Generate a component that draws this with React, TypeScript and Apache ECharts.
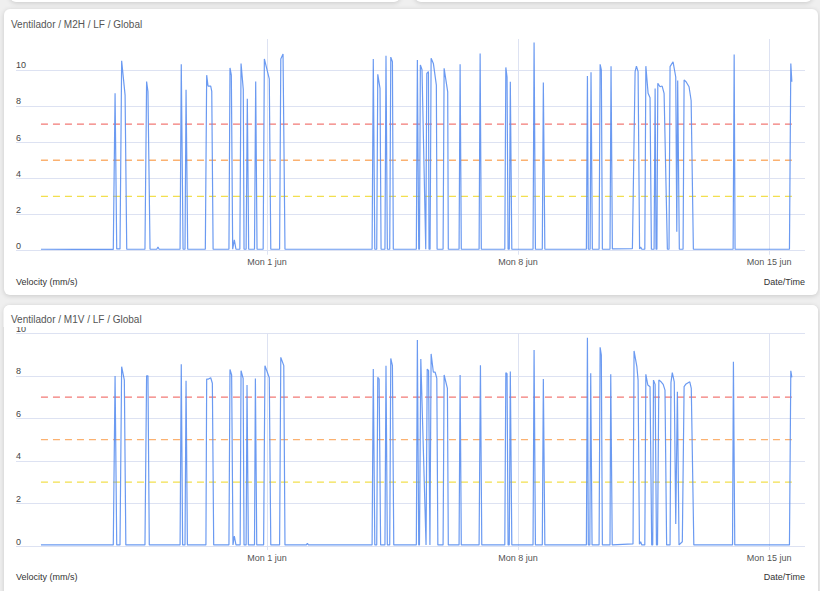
import React, { useEffect, useRef } from "react";
import * as echarts from "echarts";

// x values are hours since Mon 25 May 2020 00:00
const X_MAX_HOURS = 528;
const xTickHours = [168, 336, 504];
const xTickLabels = ["Mon 1 jun", "Mon 8 jun", "Mon 15 jun"];

const thresholdValues = [7, 5, 3];
const thresholdColors = ["#f27a76", "#fbb170", "#f2df4e"];

const m2hTitle = "Ventilador / M2H / LF / Global";
const m1vTitle = "Ventilador / M1V / LF / Global";

const m2hData: [number, number][] = [
  [16.7, 0.08], [40, 0.07], [65.1, 0.07], [66.3, 8.7], [67.4, 0.1],
  [69.6, 0.1], [70.7, 10.5], [73.0, 8.6], [74.1, 0.08],
  [86.3, 0.08], [87.4, 9.35], [88.3, 8.8], [89.7, 0.08],
  [94.2, 0.08], [95.0, 0.2], [95.8, 0.08],
  [109.8, 0.08], [110.6, 10.3], [111.8, 0.08],
  [113.1, 0.08], [113.8, 8.9], [114.9, 0.08],
  [126.7, 0.08], [127.6, 9.7], [128.5, 9.1], [130.3, 9.1], [131.0, 8.8], [131.9, 0.08],
  [142.5, 0.08], [143.2, 10.1], [144.1, 9.7], [145.0, 0.08], [146.1, 0.6], [147.2, 0.08],
  [149.8, 0.08], [150.6, 10.35], [152.1, 8.9], [152.6, 0.08],
  [154.0, 0.08], [154.8, 8.4], [155.7, 0.08],
  [159.6, 0.08], [160.4, 9.35], [161.3, 0.08],
  [165.4, 0.08], [166.2, 10.6], [169.5, 9.5], [170.5, 0.08],
  [176.4, 0.08], [177.2, 10.6], [178.7, 10.87], [180.0, 0.08],
  [238.3, 0.08], [239.1, 10.6], [240.1, 0.08],
  [241.4, 0.08], [242.1, 9.75], [243.6, 8.97], [244.3, 0.08],
  [246.9, 0.08], [247.6, 10.77], [248.5, 0.08],
  [250.1, 0.08], [250.8, 10.7], [251.9, 10.44], [252.5, 0.08],
  [267.9, 0.08], [268.6, 10.54], [269.5, 0.08], [270.0, 0.08], [270.6, 10.26], [271.7, 10.0],
  [274.2, 0.08], [274.9, 9.8], [276.0, 9.9], [276.4, 0.08],
  [277.1, 0.08], [277.8, 10.63], [279.3, 10.35], [281.3, 9.15], [281.8, 0.08],
  [285.8, 0.08], [286.5, 10.08], [288.9, 8.78], [289.3, 0.08],
  [296.5, 0.08], [297.2, 10.3], [298.0, 0.08],
  [309.9, 0.08], [310.6, 10.9], [311.4, 0.08],
  [327.1, 0.08], [327.8, 10.13], [328.6, 9.6], [329.3, 0.08], [330.1, 0.08], [330.8, 9.34], [331.8, 0.08],
  [346.0, 0.08], [346.7, 11.5], [347.6, 0.08],
  [352.2, 0.08], [352.9, 9.3], [353.9, 0.08],
  [381.7, 0.08], [382.4, 9.65], [383.0, 0.08], [384.2, 0.08], [384.8, 9.86], [385.7, 0.08],
  [390.2, 0.08], [390.9, 10.3], [391.7, 10.0], [392.4, 0.08],
  [397.5, 0.08], [398.2, 10.2], [399.1, 0.1],
  [412.5, 0.12], [414.3, 9.9], [415.2, 10.2], [416.3, 9.9], [417.3, 0.1], [418.0, 0.2], [418.8, 0.08],
  [420.8, 0.08], [421.5, 10.2], [423.0, 8.7], [424.3, 8.45], [425.2, 0.08],
  [427.0, 0.08], [427.7, 8.97], [428.3, 0.08], [428.9, 0.08], [429.5, 9.25], [431.0, 9.06],
  [432.4, 9.1], [433.7, 8.7], [435.9, 0.08],
  [437.0, 0.08], [437.7, 10.17], [439.7, 10.44], [441.5, 9.6], [442.2, 1.05], [442.8, 9.4], [443.9, 0.08],
  [446.4, 0.08], [447.1, 9.43], [448.4, 9.34], [450.4, 9.06], [451.8, 8.3], [453.3, 0.08],
  [479.9, 0.08], [480.6, 10.85], [481.2, 0.08],
  [517.6, 0.08], [518.5, 10.35], [519.2, 9.34],
];

const m1vData: [number, number][] = [
  [16.7, 0.05], [40, 0.05], [65.1, 0.05], [66.3, 7.99], [67.4, 0.05],
  [69.6, 0.05], [70.7, 8.43], [72.5, 7.8], [73.5, 0.05],
  [86.3, 0.05], [87.4, 8.0], [88.3, 8.0], [89.2, 0.05],
  [109.8, 0.05], [110.6, 8.54], [111.5, 0.05],
  [113.1, 0.05], [113.8, 7.77], [114.7, 0.05],
  [127.1, 0.05], [127.6, 7.85], [128.8, 7.85], [130.3, 7.91], [131.4, 7.65], [132.3, 0.05],
  [142.5, 0.05], [143.2, 8.3], [144.3, 8.04], [145.2, 0.05], [146.1, 0.47], [147.2, 0.05],
  [150.0, 0.05], [150.6, 8.24], [152.0, 7.88], [152.6, 0.05],
  [154.0, 0.05], [154.6, 7.57], [155.5, 0.05],
  [159.6, 0.05], [160.2, 7.88], [161.1, 0.05],
  [165.7, 0.05], [166.6, 8.48], [169.5, 7.91], [170.5, 0.05],
  [176.4, 0.05], [177.2, 8.87], [179.2, 8.48], [180.0, 0.05],
  [194.3, 0.05], [195.0, 0.12], [195.7, 0.05],
  [238.3, 0.05], [239.1, 8.32], [240.1, 0.05],
  [241.4, 0.05], [242.1, 7.93], [243.0, 7.85], [244.0, 0.05],
  [246.9, 0.05], [247.6, 8.48], [248.5, 0.05],
  [250.1, 0.05], [250.8, 8.82], [251.9, 8.48], [252.8, 0.05],
  [267.9, 0.05], [268.6, 9.69], [269.5, 0.05], [270.0, 0.05], [270.9, 8.79],
  [274.4, 0.05], [275.2, 8.32], [276.1, 8.24], [277.0, 0.05],
  [277.3, 0.05], [277.8, 9.03], [279.3, 8.17], [280.5, 8.17], [281.6, 7.88], [282.3, 0.05],
  [285.8, 0.05], [286.5, 8.04], [288.7, 7.41], [289.3, 0.05],
  [296.5, 0.05], [297.2, 8.04], [298.0, 0.05],
  [309.9, 0.05], [310.8, 8.5], [311.7, 0.05],
  [327.1, 0.05], [327.8, 8.15], [328.6, 8.1], [329.3, 0.05], [330.1, 0.05], [330.8, 8.2], [331.8, 0.05],
  [346.0, 0.05], [346.7, 9.21], [347.6, 0.05],
  [352.2, 0.05], [352.9, 7.85], [353.9, 0.05],
  [381.7, 0.05], [382.4, 9.79], [383.0, 0.05], [384.0, 0.05], [384.6, 8.12], [385.5, 0.05],
  [390.2, 0.05], [390.9, 9.34], [391.7, 8.98], [392.4, 0.05],
  [397.5, 0.05], [398.0, 8.07], [399.0, 0.05],
  [412.9, 0.1], [413.6, 9.17], [415.5, 8.43], [416.3, 7.8], [417.2, 0.08], [418.0, 0.2], [418.8, 0.05],
  [420.8, 0.05], [421.5, 8.07], [422.8, 7.57], [424.3, 7.49], [425.4, 0.05],
  [426.1, 0.05], [426.6, 7.8], [427.7, 7.6], [428.6, 0.05], [429.3, 0.05], [430.2, 7.8],
  [431.7, 7.72], [433.1, 7.6], [434.3, 7.33], [435.4, 0.05],
  [437.7, 0.05], [438.3, 7.68], [439.2, 8.15], [440.5, 7.72], [441.5, 1.03], [442.6, 7.25], [443.7, 0.05],
  [445.9, 0.2], [447.1, 7.49], [448.4, 7.62], [450.9, 7.72], [451.9, 7.41], [453.6, 0.05],
  [479.5, 0.05], [480.1, 8.66], [481.0, 0.05],
  [517.6, 0.05], [518.5, 8.24], [519.2, 7.93],
];

const FONT = "'Liberation Sans', Arial, Helvetica, sans-serif";
const GRID = "#dde2f2";
const LINE = "#5b8ff0";

type Cfg = {
  title: string;
  data: [number, number][];
  yMax: number;
  hideMax: boolean;
  titleTop: number;
  gridTop: number;
  gridBottom: number;
  footerY: number;
  cover?: { y: number; h: number };
};

function makeOption(cfg: Cfg) {
  const first = cfg.data[0][0];
  const last = cfg.data[cfg.data.length - 1][0];
  const graphic: any[] = [];
  if (cfg.cover) {
    graphic.push({
      type: "rect",
      z: 5,
      shape: { x: 3.5, y: cfg.cover.y, width: 814.5, height: cfg.cover.h, r: [6, 6, 0, 0] },
      style: { fill: "#ffffff" },
    });
  }
  graphic.push(
    {
      type: "text",
      z: 10,
      left: 16,
      top: cfg.footerY - 5,
      style: { text: "Velocity (mm/s)", font: `9px ${FONT}`, fill: "#333" },
    },
    {
      type: "text",
      z: 10,
      right: 15,
      top: cfg.footerY - 5,
      style: { text: "Date/Time", font: `9px ${FONT}`, fill: "#333" },
    }
  );
  return {
    animation: false,
    textStyle: { fontFamily: FONT },
    title: {
      text: cfg.title,
      left: 11,
      top: cfg.titleTop,
      padding: 0,
      z: 10,
      textStyle: { fontSize: 10, fontWeight: "normal", color: "#555", fontFamily: FONT },
    },
    grid: { left: 16, right: 15, top: cfg.gridTop, bottom: cfg.gridBottom },
    xAxis: {
      type: "value",
      min: 0,
      max: X_MAX_HOURS,
      interval: 168,
      axisLine: { show: false },
      axisTick: { show: true, length: 4, lineStyle: { color: GRID } },
      axisLabel: {
        showMinLabel: false,
        showMaxLabel: false,
        fontSize: 9,
        color: "#555",
        margin: 7,
        formatter: (v: number) => {
          const i = xTickHours.indexOf(Math.round(v));
          return i >= 0 ? xTickLabels[i] : "";
        },
      },
      splitLine: { show: true, showMinLine: false, showMaxLine: false, lineStyle: { color: GRID, width: 1 } },
    },
    yAxis: {
      type: "value",
      min: 0,
      max: cfg.yMax,
      interval: 2,
      axisLine: { show: false },
      axisTick: { show: false },
      axisLabel: {
        inside: true,
        margin: 0,
        verticalAlign: "bottom",
        fontSize: 9,
        color: "#444",
        showMaxLabel: !cfg.hideMax,
      },
      splitLine: { show: true, showMaxLine: !cfg.hideMax, lineStyle: { color: GRID, width: 1 } },
    },
    graphic,
    series: [
      ...thresholdValues.map((t, i) => ({
        type: "line",
        silent: true,
        showSymbol: false,
        symbol: "none",
        data: [[first, t], [last, t]],
        lineStyle: { color: thresholdColors[i], width: 1.3, type: [7, 5] },
        z: 2,
      })),
      {
        type: "line",
        showSymbol: false,
        symbol: "none",
        data: cfg.data,
        lineStyle: { color: LINE, width: 1.2, opacity: 0.9 },
        z: 3,
      },
    ],
  };
}

function Chart({ cfg, style }: { cfg: Cfg; style: React.CSSProperties }) {
  const ref = useRef<HTMLDivElement>(null);
  useEffect(() => {
    if (!ref.current) return;
    const chart = echarts.init(ref.current, null, { renderer: "svg" });
    chart.setOption(makeOption(cfg) as any);
    return () => chart.dispose();
  }, []);
  return <div ref={ref} style={{ position: "absolute", ...style }} />;
}

const cardStyle: React.CSSProperties = {
  position: "absolute",
  background: "#fff",
  borderRadius: 6,
  boxShadow: "0 1px 5px rgba(0,0,0,0.16)",
};

export default function App() {
  const cfg1: Cfg = {
    title: m2hTitle,
    data: m2hData,
    yMax: 11.7,
    hideMax: true,
    titleTop: 19,
    gridTop: 39,
    gridBottom: 300 - 250.7,
    footerY: 282,
  };
  const cfg2: Cfg = {
    title: m1vTitle,
    data: m1vData,
    yMax: 10,
    hideMax: false,
    titleTop: 14,
    gridTop: 33.3,
    gridBottom: 291 - 246,
    footerY: 277.5,
    cover: { y: 5, h: 22 },
  };
  return (
    <div
      style={{
        position: "fixed",
        left: 0,
        top: 0,
        width: 820,
        height: 591,
        overflow: "hidden",
        background: "#efefef",
        fontFamily: FONT,
      }}
    >
      <div style={{ ...cardStyle, left: 10, top: -20, width: 390, height: 22 }} />
      <div style={{ ...cardStyle, left: 415, top: -20, width: 397, height: 22 }} />
      <div style={{ ...cardStyle, left: 3.5, top: 9, width: 814.5, height: 286 }} />
      <div style={{ ...cardStyle, left: 3.5, top: 305, width: 814.5, height: 300 }} />
      <Chart cfg={cfg1} style={{ left: 0, top: 0, width: 820, height: 300 }} />
      <Chart cfg={cfg2} style={{ left: 0, top: 300, width: 820, height: 291 }} />
    </div>
  );
}
